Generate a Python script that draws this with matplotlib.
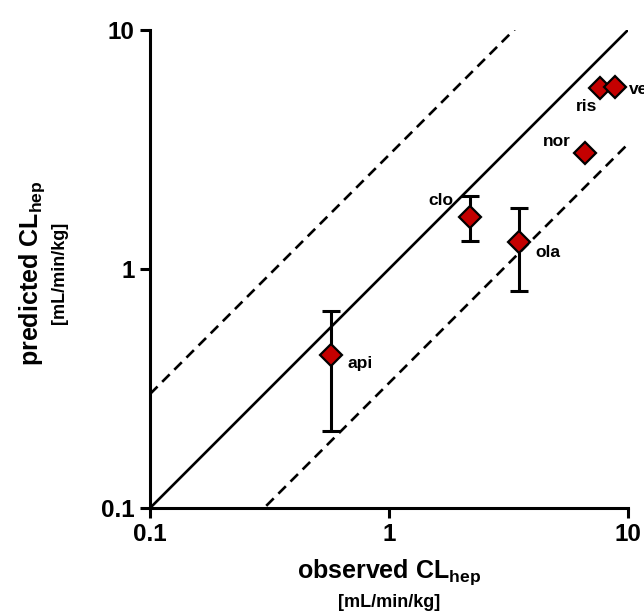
import numpy as np
import matplotlib
matplotlib.use("Agg")
import matplotlib.pyplot as plt

plt.rcParams['font.family'] = ['Liberation Sans', 'DejaVu Sans']
plt.rcParams['mathtext.default'] = 'regular'

# observed vs predicted hepatic clearance (mL/min/kg)
drugs = ['api', 'clo', 'ola', 'nor', 'ris', 'ven']
observed = [0.57, 2.18, 3.50, 6.61, 7.64, 8.83]
predicted = [0.437, 1.65, 1.30, 3.06, 5.72, 5.78]
pred_low = [0.210, 1.31, 0.809, np.nan, np.nan, np.nan]
pred_high = [0.667, 2.02, 1.80, np.nan, np.nan, np.nan]

# label offsets in points (dx, dy, ha, va)
label_pos = {
    'api': (12, -6, 'left', 'center'),
    'clo': (-12, 12, 'right', 'center'),
    'ola': (12, -8, 'left', 'center'),
    'nor': (-10, 8, 'right', 'center'),
    'ris': (-2, -13, 'right', 'center'),
    'ven': (10, -2, 'left', 'center'),
}

fig = plt.figure(figsize=(6.44, 6.14), dpi=100)
ax = fig.add_axes([0.233, 0.1726, 0.742, 0.7785])

ref = np.array([0.1, 10])
ax.plot(ref, ref, color='black', lw=1.9, solid_capstyle='butt')
ax.plot(ref, ref * 3, color='black', lw=1.9, ls=(0, (4, 2.5)))
ax.plot(ref, ref / 3, color='black', lw=1.9, ls=(0, (4, 2.5)))

for i in range(len(drugs)):
    if not np.isnan(pred_low[i]):
        err = [[predicted[i] - pred_low[i]], [pred_high[i] - predicted[i]]]
        ax.errorbar([observed[i]], [predicted[i]], yerr=err, fmt='none',
                    ecolor='black', elinewidth=2.2, capsize=6.5, capthick=2.2, zorder=3)
for i in range(len(drugs)):
    ax.plot(observed[i], predicted[i], marker='D', ms=11, mfc='#c40000',
            mec='black', mew=1.6, ls='none', zorder=4)
    dx, dy, ha, va = label_pos[drugs[i]]
    ax.annotate(drugs[i], (observed[i], predicted[i]), xytext=(dx, dy),
                textcoords='offset points', ha=ha, va=va, fontsize=12.5,
                fontweight='bold', annotation_clip=False)

ax.set_xscale('log')
ax.set_yscale('log')
ax.set_xlim(0.1, 10)
ax.set_ylim(0.1, 10)
ax.set_xticks([0.1, 1, 10])
ax.set_xticklabels(['0.1', '1', '10'])
ax.set_yticks([0.1, 1, 10])
ax.set_yticklabels(['0.1', '1', '10'])
ax.minorticks_off()
for side in ['top', 'right']:
    ax.spines[side].set_visible(False)
for side in ['left', 'bottom']:
    ax.spines[side].set_linewidth(2.2)
ax.tick_params(width=2.2, length=7, labelsize=17.5, pad=4)
for lab in ax.get_xticklabels() + ax.get_yticklabels():
    lab.set_fontweight('bold')

fig.text(0.604, 0.068, 'observed CL$_{hep}$', ha='center', va='center',
         fontsize=18, fontweight='bold')
fig.text(0.604, 0.018, '[mL/min/kg]', ha='center', va='center',
         fontsize=13, fontweight='bold')
fig.text(0.05, 0.555, 'predicted CL$_{hep}$', ha='center', va='center',
         rotation=90, fontsize=18, fontweight='bold')
fig.text(0.092, 0.555, '[mL/min/kg]', ha='center', va='center',
         rotation=90, fontsize=13, fontweight='bold')

fig.savefig('out.png', dpi=100)
